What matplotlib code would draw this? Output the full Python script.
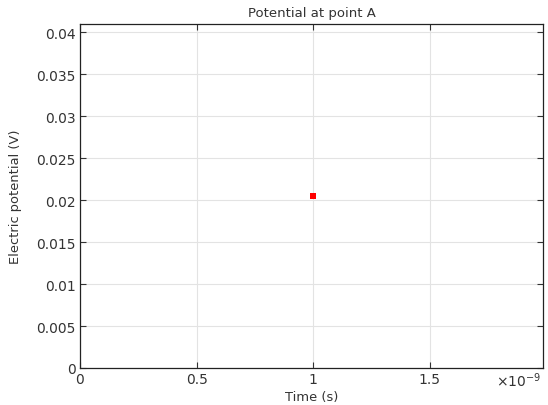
import matplotlib
matplotlib.use("Agg")
import matplotlib.pyplot as plt
from matplotlib.ticker import FuncFormatter

# data
time_s = [1.0e-9]
potential_v = [0.02048]
x_ticks = [0, 0.5e-9, 1.0e-9, 1.5e-9]
y_ticks = [0, 0.005, 0.01, 0.015, 0.02, 0.025, 0.03, 0.035, 0.04]

fig = plt.figure(figsize=(5.48, 4.06), dpi=100)
ax = fig.add_axes([80/548, 1 - 369/406, (543 - 80)/548, (369 - 25)/406])

ax.plot(time_s, potential_v, linestyle="none", marker="s", markersize=4.5,
        color="red", markeredgewidth=0)

ax.set_xlim(0, 1.985e-9)
ax.set_ylim(0, 0.041)
ax.set_xticks(x_ticks)
ax.set_yticks(y_ticks)
ax.xaxis.set_major_formatter(FuncFormatter(lambda v, p: "%g" % round(v / 1e-9, 3)))
ax.yaxis.set_major_formatter(FuncFormatter(lambda v, p: "%g" % round(v, 4)))

ax.grid(True, color="#e3e3e3", linewidth=0.8)
ax.set_axisbelow(True)
ax.tick_params(direction="in", length=4, width=0.8, top=True, right=True,
               labelsize=10, colors="#333333", labelcolor="#333333", pad=3)
for s in ax.spines.values():
    s.set_color("#222222")
    s.set_linewidth(0.9)

ax.text(0.996, -0.008, "×10$^{-9}$", transform=ax.transAxes, ha="right", va="top",
        fontsize=10, color="#333333")

ax.set_xlabel("Time (s)", fontsize=9.4, color="#333333", labelpad=3)
ax.set_ylabel("Electric potential (V)", fontsize=9.4, color="#333333", labelpad=10)
ax.set_title("Potential at point A", fontsize=9.5, color="#333333", pad=6)

fig.savefig("out.png", dpi=100)
